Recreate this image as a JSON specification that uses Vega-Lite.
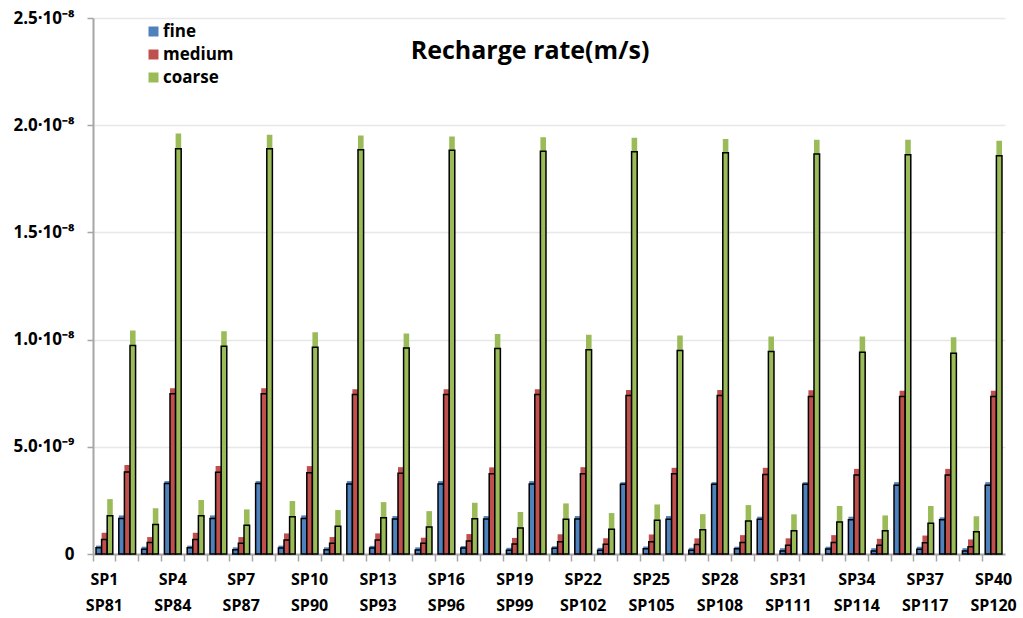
{
 "$schema": "https://vega.github.io/schema/vega-lite/v6.json",
 "width": 912, "height": 536,
 "autosize": {"type": "none"},
 "padding": {"left": 93, "top": 18, "right": 18, "bottom": 64},
 "background": "white",
 "config": {"font": "Open Sans", "view": {"stroke": null}},
 "title": {"text": "Recharge rate(m/s)", "fontSize": 25, "fontWeight": "bold", "font": "Open Sans", "color": "black", "anchor": "middle", "dx": -19, "dy": 59},
 "data": {"values": [
{"cat":1,"set":"A","grain":"fine","rate":0.39},{"cat":1,"set":"A","grain":"medium","rate":0.99},{"cat":1,"set":"A","grain":"coarse","rate":2.56},{"cat":1,"set":"B","grain":"fine","rate":0.29},{"cat":1,"set":"B","grain":"medium","rate":0.68},{"cat":1,"set":"B","grain":"coarse","rate":1.78},
{"cat":2,"set":"A","grain":"fine","rate":1.80},{"cat":2,"set":"A","grain":"medium","rate":4.15},{"cat":2,"set":"A","grain":"coarse","rate":10.43},{"cat":2,"set":"B","grain":"fine","rate":1.66},{"cat":2,"set":"B","grain":"medium","rate":3.83},{"cat":2,"set":"B","grain":"coarse","rate":9.72},
{"cat":3,"set":"A","grain":"fine","rate":0.34},{"cat":3,"set":"A","grain":"medium","rate":0.79},{"cat":3,"set":"A","grain":"coarse","rate":2.13},{"cat":3,"set":"B","grain":"fine","rate":0.22},{"cat":3,"set":"B","grain":"medium","rate":0.54},{"cat":3,"set":"B","grain":"coarse","rate":1.38},
{"cat":4,"set":"A","grain":"fine","rate":3.40},{"cat":4,"set":"A","grain":"medium","rate":7.73},{"cat":4,"set":"A","grain":"coarse","rate":19.61},{"cat":4,"set":"B","grain":"fine","rate":3.29},{"cat":4,"set":"B","grain":"medium","rate":7.48},{"cat":4,"set":"B","grain":"coarse","rate":18.90},
{"cat":5,"set":"A","grain":"fine","rate":0.39},{"cat":5,"set":"A","grain":"medium","rate":0.99},{"cat":5,"set":"A","grain":"coarse","rate":2.52},{"cat":5,"set":"B","grain":"fine","rate":0.29},{"cat":5,"set":"B","grain":"medium","rate":0.68},{"cat":5,"set":"B","grain":"coarse","rate":1.78},
{"cat":6,"set":"A","grain":"fine","rate":1.80},{"cat":6,"set":"A","grain":"medium","rate":4.10},{"cat":6,"set":"A","grain":"coarse","rate":10.39},{"cat":6,"set":"B","grain":"fine","rate":1.66},{"cat":6,"set":"B","grain":"medium","rate":3.81},{"cat":6,"set":"B","grain":"coarse","rate":9.69},
{"cat":7,"set":"A","grain":"fine","rate":0.31},{"cat":7,"set":"A","grain":"medium","rate":0.79},{"cat":7,"set":"A","grain":"coarse","rate":2.08},{"cat":7,"set":"B","grain":"fine","rate":0.20},{"cat":7,"set":"B","grain":"medium","rate":0.50},{"cat":7,"set":"B","grain":"coarse","rate":1.34},
{"cat":8,"set":"A","grain":"fine","rate":3.40},{"cat":8,"set":"A","grain":"medium","rate":7.73},{"cat":8,"set":"A","grain":"coarse","rate":19.56},{"cat":8,"set":"B","grain":"fine","rate":3.29},{"cat":8,"set":"B","grain":"medium","rate":7.48},{"cat":8,"set":"B","grain":"coarse","rate":18.90},
{"cat":9,"set":"A","grain":"fine","rate":0.39},{"cat":9,"set":"A","grain":"medium","rate":0.96},{"cat":9,"set":"A","grain":"coarse","rate":2.47},{"cat":9,"set":"B","grain":"fine","rate":0.28},{"cat":9,"set":"B","grain":"medium","rate":0.65},{"cat":9,"set":"B","grain":"coarse","rate":1.74},
{"cat":10,"set":"A","grain":"fine","rate":1.80},{"cat":10,"set":"A","grain":"medium","rate":4.10},{"cat":10,"set":"A","grain":"coarse","rate":10.34},{"cat":10,"set":"B","grain":"fine","rate":1.66},{"cat":10,"set":"B","grain":"medium","rate":3.79},{"cat":10,"set":"B","grain":"coarse","rate":9.64},
{"cat":11,"set":"A","grain":"fine","rate":0.31},{"cat":11,"set":"A","grain":"medium","rate":0.79},{"cat":11,"set":"A","grain":"coarse","rate":2.05},{"cat":11,"set":"B","grain":"fine","rate":0.20},{"cat":11,"set":"B","grain":"medium","rate":0.50},{"cat":11,"set":"B","grain":"coarse","rate":1.30},
{"cat":12,"set":"A","grain":"fine","rate":3.40},{"cat":12,"set":"A","grain":"medium","rate":7.69},{"cat":12,"set":"A","grain":"coarse","rate":19.52},{"cat":12,"set":"B","grain":"fine","rate":3.26},{"cat":12,"set":"B","grain":"medium","rate":7.44},{"cat":12,"set":"B","grain":"coarse","rate":18.86},
{"cat":13,"set":"A","grain":"fine","rate":0.38},{"cat":13,"set":"A","grain":"medium","rate":0.96},{"cat":13,"set":"A","grain":"coarse","rate":2.42},{"cat":13,"set":"B","grain":"fine","rate":0.28},{"cat":13,"set":"B","grain":"medium","rate":0.65},{"cat":13,"set":"B","grain":"coarse","rate":1.69},
{"cat":14,"set":"A","grain":"fine","rate":1.77},{"cat":14,"set":"A","grain":"medium","rate":4.05},{"cat":14,"set":"A","grain":"coarse","rate":10.29},{"cat":14,"set":"B","grain":"fine","rate":1.63},{"cat":14,"set":"B","grain":"medium","rate":3.77},{"cat":14,"set":"B","grain":"coarse","rate":9.61},
{"cat":15,"set":"A","grain":"fine","rate":0.31},{"cat":15,"set":"A","grain":"medium","rate":0.76},{"cat":15,"set":"A","grain":"coarse","rate":2.00},{"cat":15,"set":"B","grain":"fine","rate":0.19},{"cat":15,"set":"B","grain":"medium","rate":0.50},{"cat":15,"set":"B","grain":"coarse","rate":1.26},
{"cat":16,"set":"A","grain":"fine","rate":3.40},{"cat":16,"set":"A","grain":"medium","rate":7.69},{"cat":16,"set":"A","grain":"coarse","rate":19.47},{"cat":16,"set":"B","grain":"fine","rate":3.26},{"cat":16,"set":"B","grain":"medium","rate":7.44},{"cat":16,"set":"B","grain":"coarse","rate":18.83},
{"cat":17,"set":"A","grain":"fine","rate":0.37},{"cat":17,"set":"A","grain":"medium","rate":0.93},{"cat":17,"set":"A","grain":"coarse","rate":2.39},{"cat":17,"set":"B","grain":"fine","rate":0.28},{"cat":17,"set":"B","grain":"medium","rate":0.61},{"cat":17,"set":"B","grain":"coarse","rate":1.64},
{"cat":18,"set":"A","grain":"fine","rate":1.77},{"cat":18,"set":"A","grain":"medium","rate":4.04},{"cat":18,"set":"A","grain":"coarse","rate":10.26},{"cat":18,"set":"B","grain":"fine","rate":1.63},{"cat":18,"set":"B","grain":"medium","rate":3.74},{"cat":18,"set":"B","grain":"coarse","rate":9.58},
{"cat":19,"set":"A","grain":"fine","rate":0.29},{"cat":19,"set":"A","grain":"medium","rate":0.75},{"cat":19,"set":"A","grain":"coarse","rate":1.96},{"cat":19,"set":"B","grain":"fine","rate":0.17},{"cat":19,"set":"B","grain":"medium","rate":0.47},{"cat":19,"set":"B","grain":"coarse","rate":1.21},
{"cat":20,"set":"A","grain":"fine","rate":3.40},{"cat":20,"set":"A","grain":"medium","rate":7.69},{"cat":20,"set":"A","grain":"coarse","rate":19.44},{"cat":20,"set":"B","grain":"fine","rate":3.26},{"cat":20,"set":"B","grain":"medium","rate":7.44},{"cat":20,"set":"B","grain":"coarse","rate":18.78},
{"cat":21,"set":"A","grain":"fine","rate":0.36},{"cat":21,"set":"A","grain":"medium","rate":0.92},{"cat":21,"set":"A","grain":"coarse","rate":2.36},{"cat":21,"set":"B","grain":"fine","rate":0.27},{"cat":21,"set":"B","grain":"medium","rate":0.57},{"cat":21,"set":"B","grain":"coarse","rate":1.62},
{"cat":22,"set":"A","grain":"fine","rate":1.77},{"cat":22,"set":"A","grain":"medium","rate":4.05},{"cat":22,"set":"A","grain":"coarse","rate":10.23},{"cat":22,"set":"B","grain":"fine","rate":1.63},{"cat":22,"set":"B","grain":"medium","rate":3.74},{"cat":22,"set":"B","grain":"coarse","rate":9.53},
{"cat":23,"set":"A","grain":"fine","rate":0.29},{"cat":23,"set":"A","grain":"medium","rate":0.74},{"cat":23,"set":"A","grain":"coarse","rate":1.91},{"cat":23,"set":"B","grain":"fine","rate":0.17},{"cat":23,"set":"B","grain":"medium","rate":0.46},{"cat":23,"set":"B","grain":"coarse","rate":1.16},
{"cat":24,"set":"A","grain":"fine","rate":3.35},{"cat":24,"set":"A","grain":"medium","rate":7.65},{"cat":24,"set":"A","grain":"coarse","rate":19.41},{"cat":24,"set":"B","grain":"fine","rate":3.25},{"cat":24,"set":"B","grain":"medium","rate":7.39},{"cat":24,"set":"B","grain":"coarse","rate":18.76},
{"cat":25,"set":"A","grain":"fine","rate":0.35},{"cat":25,"set":"A","grain":"medium","rate":0.91},{"cat":25,"set":"A","grain":"coarse","rate":2.31},{"cat":25,"set":"B","grain":"fine","rate":0.25},{"cat":25,"set":"B","grain":"medium","rate":0.57},{"cat":25,"set":"B","grain":"coarse","rate":1.57},
{"cat":26,"set":"A","grain":"fine","rate":1.77},{"cat":26,"set":"A","grain":"medium","rate":4.02},{"cat":26,"set":"A","grain":"coarse","rate":10.19},{"cat":26,"set":"B","grain":"fine","rate":1.62},{"cat":26,"set":"B","grain":"medium","rate":3.74},{"cat":26,"set":"B","grain":"coarse","rate":9.49},
{"cat":27,"set":"A","grain":"fine","rate":0.29},{"cat":27,"set":"A","grain":"medium","rate":0.73},{"cat":27,"set":"A","grain":"coarse","rate":1.86},{"cat":27,"set":"B","grain":"fine","rate":0.17},{"cat":27,"set":"B","grain":"medium","rate":0.44},{"cat":27,"set":"B","grain":"coarse","rate":1.13},
{"cat":28,"set":"A","grain":"fine","rate":3.35},{"cat":28,"set":"A","grain":"medium","rate":7.65},{"cat":28,"set":"A","grain":"coarse","rate":19.36},{"cat":28,"set":"B","grain":"fine","rate":3.25},{"cat":28,"set":"B","grain":"medium","rate":7.39},{"cat":28,"set":"B","grain":"coarse","rate":18.71},
{"cat":29,"set":"A","grain":"fine","rate":0.34},{"cat":29,"set":"A","grain":"medium","rate":0.88},{"cat":29,"set":"A","grain":"coarse","rate":2.28},{"cat":29,"set":"B","grain":"fine","rate":0.24},{"cat":29,"set":"B","grain":"medium","rate":0.54},{"cat":29,"set":"B","grain":"coarse","rate":1.54},
{"cat":30,"set":"A","grain":"fine","rate":1.74},{"cat":30,"set":"A","grain":"medium","rate":4.02},{"cat":30,"set":"A","grain":"coarse","rate":10.15},{"cat":30,"set":"B","grain":"fine","rate":1.62},{"cat":30,"set":"B","grain":"medium","rate":3.71},{"cat":30,"set":"B","grain":"coarse","rate":9.44},
{"cat":31,"set":"A","grain":"fine","rate":0.27},{"cat":31,"set":"A","grain":"medium","rate":0.73},{"cat":31,"set":"A","grain":"coarse","rate":1.85},{"cat":31,"set":"B","grain":"fine","rate":0.14},{"cat":31,"set":"B","grain":"medium","rate":0.41},{"cat":31,"set":"B","grain":"coarse","rate":1.09},
{"cat":32,"set":"A","grain":"fine","rate":3.35},{"cat":32,"set":"A","grain":"medium","rate":7.64},{"cat":32,"set":"A","grain":"coarse","rate":19.32},{"cat":32,"set":"B","grain":"fine","rate":3.25},{"cat":32,"set":"B","grain":"medium","rate":7.35},{"cat":32,"set":"B","grain":"coarse","rate":18.66},
{"cat":33,"set":"A","grain":"fine","rate":0.34},{"cat":33,"set":"A","grain":"medium","rate":0.88},{"cat":33,"set":"A","grain":"coarse","rate":2.24},{"cat":33,"set":"B","grain":"fine","rate":0.23},{"cat":33,"set":"B","grain":"medium","rate":0.54},{"cat":33,"set":"B","grain":"coarse","rate":1.49},
{"cat":34,"set":"A","grain":"fine","rate":1.74},{"cat":34,"set":"A","grain":"medium","rate":3.97},{"cat":34,"set":"A","grain":"coarse","rate":10.15},{"cat":34,"set":"B","grain":"fine","rate":1.60},{"cat":34,"set":"B","grain":"medium","rate":3.68},{"cat":34,"set":"B","grain":"coarse","rate":9.41},
{"cat":35,"set":"A","grain":"fine","rate":0.27},{"cat":35,"set":"A","grain":"medium","rate":0.71},{"cat":35,"set":"A","grain":"coarse","rate":1.80},{"cat":35,"set":"B","grain":"fine","rate":0.14},{"cat":35,"set":"B","grain":"medium","rate":0.41},{"cat":35,"set":"B","grain":"coarse","rate":1.09},
{"cat":36,"set":"A","grain":"fine","rate":3.35},{"cat":36,"set":"A","grain":"medium","rate":7.61},{"cat":36,"set":"A","grain":"coarse","rate":19.32},{"cat":36,"set":"B","grain":"fine","rate":3.21},{"cat":36,"set":"B","grain":"medium","rate":7.35},{"cat":36,"set":"B","grain":"coarse","rate":18.62},
{"cat":37,"set":"A","grain":"fine","rate":0.34},{"cat":37,"set":"A","grain":"medium","rate":0.86},{"cat":37,"set":"A","grain":"coarse","rate":2.24},{"cat":37,"set":"B","grain":"fine","rate":0.22},{"cat":37,"set":"B","grain":"medium","rate":0.52},{"cat":37,"set":"B","grain":"coarse","rate":1.44},
{"cat":38,"set":"A","grain":"fine","rate":1.71},{"cat":38,"set":"A","grain":"medium","rate":3.97},{"cat":38,"set":"A","grain":"coarse","rate":10.11},{"cat":38,"set":"B","grain":"fine","rate":1.60},{"cat":38,"set":"B","grain":"medium","rate":3.68},{"cat":38,"set":"B","grain":"coarse","rate":9.36},
{"cat":39,"set":"A","grain":"fine","rate":0.27},{"cat":39,"set":"A","grain":"medium","rate":0.68},{"cat":39,"set":"A","grain":"coarse","rate":1.76},{"cat":39,"set":"B","grain":"fine","rate":0.14},{"cat":39,"set":"B","grain":"medium","rate":0.34},{"cat":39,"set":"B","grain":"coarse","rate":1.04},
{"cat":40,"set":"A","grain":"fine","rate":3.35},{"cat":40,"set":"A","grain":"medium","rate":7.61},{"cat":40,"set":"A","grain":"coarse","rate":19.28},{"cat":40,"set":"B","grain":"fine","rate":3.21},{"cat":40,"set":"B","grain":"medium","rate":7.35},{"cat":40,"set":"B","grain":"coarse","rate":18.58}
 ]},
 "encoding": {
  "x": {"field": "cat", "type": "ordinal", "scale": {"paddingInner": 0, "paddingOuter": 0},
        "axis": {"title": null, "bandPosition": 0, "labelAngle": 0, "labelOverlap": false,
                 "labelExpr": "(datum.value - 1) % 3 == 0 ? ['SP' + datum.value, 'SP' + (datum.value + 80)] : ''",
                 "labelFont": "Open Sans", "labelFontSize": 16, "labelFontWeight": "bold", "labelColor": "black",
                 "labelPadding": 10, "labelLineHeight": 26, "labelBaseline": "top",
                 "tickSize": 7, "tickColor": "#a6a6a6", "tickWidth": 1.5, "domainColor": "#a6a6a6", "domainWidth": 2, "grid": false}},
  "xOffset": {"field": "grain", "type": "nominal", "sort": ["fine", "medium", "coarse"], "scale": {"paddingInner": 0, "paddingOuter": 0.54}},
  "y": {"field": "rate", "type": "quantitative", "scale": {"domain": [0, 25]},
        "axis": {"title": null, "values": [0, 5, 10, 15, 20, 25],
                 "labelExpr": "datum.value == 0 ? '0' : (datum.value < 10 ? format(datum.value, '.1f') + '·10⁻⁹' : format(datum.value / 10, '.1f') + '·10⁻⁸')",
                 "labelFont": "Open Sans", "labelFontSize": 17, "labelFontWeight": "bold", "labelColor": "black", "labelPadding": 13,
                 "tickSize": 6, "tickColor": "#a6a6a6", "tickWidth": 1.5, "domainColor": "#a6a6a6", "domainWidth": 2,
                 "grid": true, "gridColor": "#e8e8e8", "gridWidth": 1.5}},
  "color": {"field": "grain", "type": "nominal", "sort": ["fine", "medium", "coarse"],
            "scale": {"domain": ["fine", "medium", "coarse"], "range": ["#4f81bd", "#c0504d", "#9bbb59"]},
            "legend": {"title": null, "orient": "none", "legendX": 52, "legendY": 5, "symbolType": "square", "symbolSize": 100,
                       "symbolStrokeWidth": 0, "symbolOpacity": 1, "labelFont": "Open Sans", "labelFontSize": 17, "labelFontWeight": "bold",
                       "labelColor": "black", "rowPadding": 5, "labelOffset": 1}}
 },
 "layer": [
  {"transform": [{"filter": "datum.set == 'A'"}], "mark": {"type": "bar", "opacity": 1}},
  {"transform": [{"filter": "datum.set == 'B'"}], "mark": {"type": "bar", "opacity": 1, "stroke": "black", "strokeWidth": 1.5}}
 ]
}
